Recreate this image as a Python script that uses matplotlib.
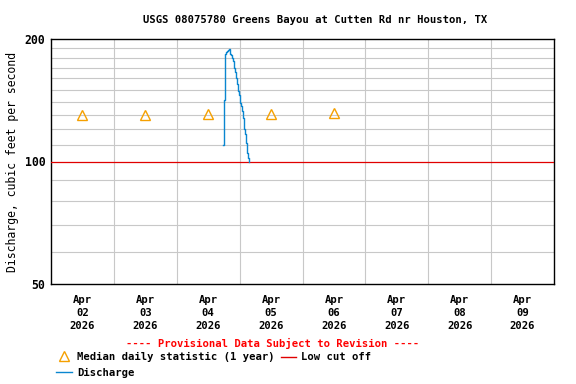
import matplotlib
matplotlib.use("Agg")
import matplotlib.pyplot as plt
from matplotlib.lines import Line2D
import numpy as np

plt.rcParams['font.family'] = ['DejaVu Sans Mono']
plt.rcParams['font.weight'] = 'bold'

title = "USGS 08075780 Greens Bayou at Cutten Rd nr Houston, TX"
ylabel = "Discharge, cubic feet per second"

# median daily statistic (1 year)
median_dates = np.array(['2026-04-02T12:00', '2026-04-03T12:00', '2026-04-04T12:00',
                         '2026-04-05T12:00', '2026-04-06T12:00'], dtype='datetime64[m]')
median_vals = [130, 130, 131, 130.5, 131.5]

# 15-minute discharge, starting Apr 4 17:45
q_start = np.datetime64('2026-04-04T17:45')
q_vals = [110, 142, 166, 184, 186, 186, 187, 187, 188, 189, 189, 184, 183, 181,
          180, 177, 174, 170, 166, 164, 160, 155, 152, 149, 146, 141, 139, 137,
          135, 133, 128, 124, 120, 117, 115, 111, 108, 105, 102, 100]
q_dates = q_start + np.arange(len(q_vals)) * np.timedelta64(15, 'm')

low_cutoff = 100
day_ticks = np.arange(np.datetime64('2026-04-02'), np.datetime64('2026-04-10'),
                      np.timedelta64(1, 'D')).astype('datetime64[m]')

fig = plt.figure(figsize=(5.76, 3.84), dpi=100)
ax = fig.add_axes([51/576, 1 - 284/384, 503/576, 245/384])

ax.set_yscale('log')
ax.set_ylim(50, 200)
ax.set_xlim(day_ticks[0], day_ticks[-1] + np.timedelta64(1, 'D'))

# grid
ax.set_yticks([50, 100, 200])
ax.set_yticklabels(['50', '100', '200'], fontsize=8.3)
ax.set_yticks([60, 70, 80, 90, 110, 120, 130, 140, 150, 160, 170, 180, 190], minor=True)
ax.yaxis.set_minor_formatter(matplotlib.ticker.NullFormatter())
ax.set_xticks(day_ticks[1:], minor=True)
noon = day_ticks + np.timedelta64(12, 'h')
ax.set_xticks(noon)
ax.set_xticklabels([d.astype(object).strftime('%b\n%d\n%Y') for d in noon],
                   fontsize=7.6, linespacing=1.35)
ax.grid(True, which='minor', color='#c8c8c8', lw=0.8)
ax.tick_params(which='both', length=0)
ax.tick_params(axis='x', pad=8)
ax.tick_params(axis='y', pad=4)
for s in ax.spines.values():
    s.set_linewidth(1.0)

ax.axhline(low_cutoff, color='#e00000', lw=0.9, zorder=3)
ax.plot(q_dates, q_vals, color='#0a86d0', lw=1.0, drawstyle='steps-post', zorder=4)
ax.plot(median_dates, median_vals, ls='none', marker='^', ms=7, mfc='none',
        mec='#f5a000', mew=1.0, zorder=5)

ax.set_ylabel(ylabel, fontsize=8.3, labelpad=4)

fig.text(315/576, 1 - 20/384, title, ha='center', va='center', fontsize=7.6)
fig.text(273/576, 1 - 343/384, "---- Provisional Data Subject to Revision ----",
         ha='center', va='center', fontsize=7.6, color='#ff0000')

# legend
fig.add_artist(Line2D([64/576], [1 - 356/384], marker='^', ms=7, mfc='none',
                      mec='#f5a000', mew=1.0, ls='none'))
fig.text(77/576, 1 - 357/384, "Median daily statistic (1 year)", va='center', fontsize=7.6)
fig.add_artist(Line2D([281/576, 296/576], [1 - 357/384] * 2, color='#e00000', lw=1.0))
fig.text(301/576, 1 - 357/384, "Low cut off", va='center', fontsize=7.6)
fig.add_artist(Line2D([56/576, 72/576], [1 - 372/384] * 2, color='#0a86d0', lw=1.0))
fig.text(77/576, 1 - 373/384, "Discharge", va='center', fontsize=7.6)

fig.savefig('out.png', dpi=100)
